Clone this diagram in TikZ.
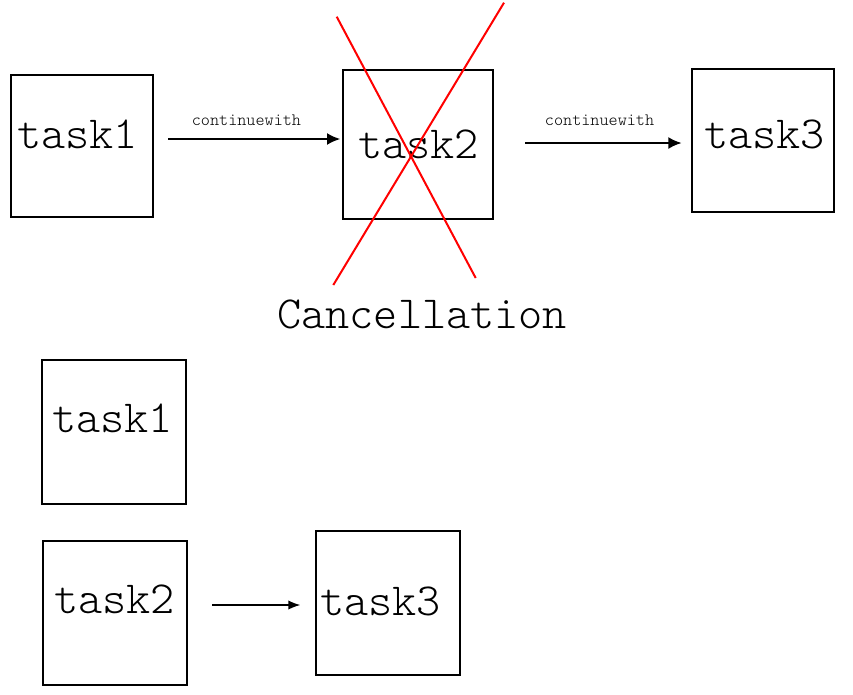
\documentclass[tikz,border=0pt]{standalone}
\usepackage{fontspec}
\newfontfamily\taskfont{Latin Modern Mono Light}
\usetikzlibrary{arrows.meta}
\tikzset{
	taskbox/.style={draw, line width=1.5pt, minimum size=#1, inner sep=0pt},
	tasktext/.style={anchor=base west, inner sep=0pt, font=\taskfont\fontsize{34.5}{40}\selectfont},
	flow/.style={line width=1.5pt, -{Latex[length=10pt, width=9pt]}},
	cw/.style={above=6pt, inner sep=3pt, font=\taskfont\fontsize{13}{15}\selectfont},
	cross/.style={draw=red, line width=1.5pt}
}
\begin{document}
\begin{tikzpicture}[x=0.75pt, y=-0.75pt]
	\useasboundingbox (0,0) rectangle (853,694);
	% before cancellation
	\node[taskbox=106pt] (t1) at (82,146) {};
	\node[taskbox=112pt] (t2) at (418,144.5) {};
	\node[taskbox=107pt] (t3) at (763,140.5) {};
	\node[tasktext] (t1txt) at (17,148) {task1};
	\node[tasktext] (t2txt) at (358,158) {task2};
	\node[tasktext] (t3txt) at (704,148) {task3};
	\coordinate (a1) at (168,139);
	\coordinate (a2) at (525,143);
	\draw[flow, shorten >=1.5pt] (a1) -- (a1 -| t2.west) node[cw, pos=0.45] {continuewith};
	\draw[flow, shorten >=6.75pt] (a2) -- (a2 -| t3.west) node[cw, pos=0.45, yshift=3pt] {continuewith};
	\draw[cross] (336.7,16.7) -- (475.7,278);
	\draw[cross] (504,2.7) -- (333.3,285);
	\node[tasktext] (cancel) at (277,328) {Cancellation};

	% after cancellation
	\node[taskbox=108pt] (b1) at (114,432) {};
	\node[taskbox=108pt] (b2) at (115,613) {};
	\node[taskbox=108pt] (b3) at (388,603) {};
	\node[tasktext] (b1txt) at (52,432) {task1};
	\node[tasktext] (b2txt) at (54,613) {task2};
	\node[tasktext] (b3txt) at (320,615) {task3};
	\coordinate (a3) at (212,605);
	\draw[flow, line width=1pt, -{Latex[length=9pt, width=7pt]}, shorten >=11pt] (a3) -- (a3 -| b3.west);
\end{tikzpicture}
\end{document}
